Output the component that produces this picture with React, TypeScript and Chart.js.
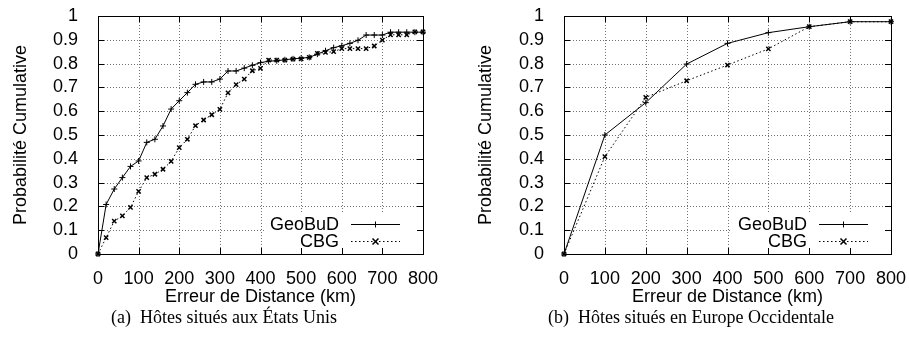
import React, { useEffect, useRef } from "react";
import { Chart, registerables } from "chart.js";

Chart.register(...registerables);

// ---------- data ----------
const US_DIST = [0, 20, 40, 60, 80, 100, 120, 140, 160, 180, 200, 220, 240, 260, 280, 300, 320, 340, 360, 380, 400, 420, 440, 460, 480, 500, 520, 540, 560, 580, 600, 620, 640, 660, 680, 700, 720, 740, 760, 780, 800];
const US_GEOBUD = [0, 0.208, 0.273, 0.321, 0.368, 0.391, 0.469, 0.482, 0.538, 0.609, 0.644, 0.678, 0.713, 0.723, 0.723, 0.735, 0.769, 0.769, 0.781, 0.793, 0.804, 0.81, 0.812, 0.816, 0.82, 0.823, 0.826, 0.84, 0.854, 0.867, 0.875, 0.885, 0.898, 0.92, 0.92, 0.92, 0.932, 0.932, 0.932, 0.932, 0.932];
const US_CBG = [0, 0.069, 0.138, 0.16, 0.196, 0.263, 0.321, 0.335, 0.356, 0.389, 0.447, 0.482, 0.539, 0.563, 0.585, 0.608, 0.677, 0.712, 0.735, 0.77, 0.78, 0.815, 0.815, 0.815, 0.819, 0.82, 0.826, 0.843, 0.847, 0.85, 0.863, 0.863, 0.863, 0.863, 0.874, 0.899, 0.921, 0.921, 0.921, 0.933, 0.933];

const EU_DIST = [0, 100, 200, 300, 400, 500, 600, 700, 800];
const EU_GEOBUD = [0, 0.5, 0.636, 0.798, 0.885, 0.93, 0.955, 0.976, 0.976];
const EU_CBG = [0, 0.409, 0.658, 0.728, 0.794, 0.862, 0.955, 0.976, 0.976];

const SERIES_NAMES = ["GeoBuD", "CBG"];
const X_TICKS = [0, 100, 200, 300, 400, 500, 600, 700, 800];
const Y_TICKS = [0, 0.1, 0.2, 0.3, 0.4, 0.5, 0.6, 0.7, 0.8, 0.9, 1];
const Y_TITLE = "Probabilité Cumulative";
const X_TITLE = "Erreur de Distance (km)";
const CAPTIONS = ["(a)  Hôtes situés aux États Unis", "(b)  Hôtes situés en Europe Occidentale"];

// ---------- styles ----------
const SANS = "'Liberation Sans', Arial, Helvetica, sans-serif";
const SERIF = "'Liberation Serif', 'Times New Roman', Times, serif";
const FONT_SIZE = 18;
const CANVAS_H = 310;
const PLOT_TOP = 16;
const PLOT_BOTTOM = 254;

function drawMarker(ctx: CanvasRenderingContext2D, style: string, x: number, y: number, r: number) {
  ctx.beginPath();
  if (style === "cross") {
    ctx.moveTo(x - r, y);
    ctx.lineTo(x + r, y);
    ctx.moveTo(x, y - r);
    ctx.lineTo(x, y + r);
  } else {
    ctx.moveTo(x - r, y - r);
    ctx.lineTo(x + r, y + r);
    ctx.moveTo(x - r, y + r);
    ctx.lineTo(x + r, y - r);
  }
  ctx.stroke();
}

const gnuplotPlugin = {
  id: "gnuplotFrame",
  beforeDatasetsDraw(chart: any) {
    const { ctx, chartArea: a, scales } = chart;
    ctx.save();
    // dotted grid
    ctx.strokeStyle = "rgba(0,0,0,0.55)";
    ctx.lineWidth = 1;
    ctx.setLineDash([1, 2]);
    X_TICKS.forEach((v) => {
      const px = Math.round(scales.x.getPixelForValue(v)) + 0.5;
      ctx.beginPath();
      ctx.moveTo(px, a.top);
      ctx.lineTo(px, a.bottom);
      ctx.stroke();
    });
    Y_TICKS.forEach((v) => {
      const py = Math.round(scales.y.getPixelForValue(v)) + 0.5;
      ctx.beginPath();
      ctx.moveTo(a.left, py);
      ctx.lineTo(a.right, py);
      ctx.stroke();
    });
    ctx.setLineDash([]);
    // white key box
    ctx.font = `${FONT_SIZE}px ${SANS}`;
    const w = Math.max(...SERIES_NAMES.map((n) => ctx.measureText(n).width));
    const textRight = a.right - 84;
    const boxLeft = textRight - w - 6;
    ctx.fillStyle = "#fff";
    ctx.fillRect(boxLeft, a.bottom - 42, a.right - boxLeft, 41);
    ctx.restore();
  },
  afterDatasetsDraw(chart: any) {
    const { ctx, chartArea: a, scales } = chart;
    ctx.save();
    // key
    ctx.font = `${FONT_SIZE}px ${SANS}`;
    ctx.textAlign = "right";
    ctx.textBaseline = "middle";
    const textRight = a.right - 84;
    const rows = [a.bottom - 30, a.bottom - 13];
    chart.data.datasets.forEach((ds: any, i: number) => {
      const y = rows[i];
      ctx.fillStyle = "#000";
      ctx.fillText(ds.label, textRight, y + 1);
      const x0 = a.right - 72;
      const x1 = a.right - 23;
      ctx.strokeStyle = "#000";
      ctx.lineWidth = 1;
      ctx.setLineDash(ds.borderDash || []);
      ctx.beginPath();
      ctx.moveTo(x0, Math.round(y) + 0.5);
      ctx.lineTo(x1, Math.round(y) + 0.5);
      ctx.stroke();
      ctx.setLineDash([]);
      ctx.lineWidth = ds.pointBorderWidth || 1;
      drawMarker(ctx, ds.pointStyle, (x0 + x1) / 2, Math.round(y) + 0.5, ds.pointRadius);
    });
    // tick marks
    ctx.strokeStyle = "#000";
    ctx.lineWidth = 1;
    const tl = 6;
    X_TICKS.forEach((v) => {
      const px = Math.round(scales.x.getPixelForValue(v)) + 0.5;
      ctx.beginPath();
      ctx.moveTo(px, a.bottom);
      ctx.lineTo(px, a.bottom - tl);
      ctx.moveTo(px, a.top);
      ctx.lineTo(px, a.top + tl);
      ctx.stroke();
    });
    Y_TICKS.forEach((v) => {
      const py = Math.round(scales.y.getPixelForValue(v)) + 0.5;
      ctx.beginPath();
      ctx.moveTo(a.left, py);
      ctx.lineTo(a.left + tl, py);
      ctx.moveTo(a.right, py);
      ctx.lineTo(a.right - tl, py);
      ctx.stroke();
    });
    // frame
    ctx.strokeRect(Math.round(a.left) + 0.5, Math.round(a.top) + 0.5, Math.round(a.right - a.left), Math.round(a.bottom - a.top));
    ctx.restore();
  },
};

type PanelProps = {
  left: number;
  width: number;
  plotLeft: number; // within canvas
  plotRight: number; // within canvas
  dist: number[];
  geobud: number[];
  cbg: number[];
};

function Panel({ left, width, plotLeft, plotRight, dist, geobud, cbg }: PanelProps) {
  const ref = useRef<HTMLCanvasElement | null>(null);
  useEffect(() => {
    if (!ref.current) return;
    const font = { family: SANS, size: FONT_SIZE };
    const chart = new Chart(ref.current, {
      type: "line",
      data: {
        datasets: [
          {
            label: SERIES_NAMES[0],
            data: dist.map((d, i) => ({ x: d, y: geobud[i] })),
            borderColor: "#000",
            borderWidth: 1,
            pointStyle: "cross",
            pointRadius: 3,
            pointBorderWidth: 1,
            pointBorderColor: "#000",
            pointBackgroundColor: "#000",
            tension: 0,
            clip: false as any,
          } as any,
          {
            label: SERIES_NAMES[1],
            data: dist.map((d, i) => ({ x: d, y: cbg[i] })),
            borderColor: "#000",
            borderWidth: 1,
            borderDash: [1.5, 2.5],
            pointStyle: "crossRot",
            pointRadius: 3,
            pointBorderWidth: 1.5,
            pointBorderColor: "#000",
            pointBackgroundColor: "#000",
            tension: 0,
            clip: false as any,
          } as any,
        ],
      },
      options: {
        responsive: false,
        animation: false,
        layout: { padding: { left: 0, top: PLOT_TOP, right: width - plotRight, bottom: 0 } },
        plugins: {
          legend: { display: false },
          tooltip: { enabled: false },
          title: { display: false },
        },
        scales: {
          x: {
            type: "linear",
            min: 0,
            max: 800,
            afterFit: (s: any) => {
              s.height = CANVAS_H - PLOT_BOTTOM;
              s.paddingLeft = 0;
              s.paddingRight = 0;
            },
            afterBuildTicks: (s: any) => {
              s.ticks = X_TICKS.map((v) => ({ value: v }));
            },
            ticks: { padding: 6, color: "#000", font, maxRotation: 0, autoSkip: false },
            grid: { display: false },
            border: { display: false },
            title: { display: true, text: X_TITLE, color: "#000", font, padding: { top: 0, bottom: 2 } },
          },
          y: {
            type: "linear",
            min: 0,
            max: 1,
            afterFit: (s: any) => {
              s.width = plotLeft;
              s.paddingTop = 0;
              s.paddingBottom = 0;
            },
            afterBuildTicks: (s: any) => {
              s.ticks = Y_TICKS.map((v) => ({ value: v }));
            },
            ticks: {
              padding: 12,
              color: "#000",
              font,
              autoSkip: false,
              callback: (v: any) => String(Number(Number(v).toFixed(1))),
            },
            grid: { display: false },
            border: { display: false },
            title: { display: true, text: Y_TITLE, color: "#000", font, padding: { top: 10, bottom: 0 } },
          },
        },
      } as any,
      plugins: [gnuplotPlugin],
    });
    return () => chart.destroy();
  }, []);
  return (
    <canvas
      ref={ref}
      width={width}
      height={CANVAS_H}
      style={{ position: "absolute", left, top: 0, width, height: CANVAS_H, display: "block" }}
    />
  );
}

export default function App() {
  return (
    <div style={{ position: "absolute", left: 0, top: 0, width: 909, height: 338, background: "#fff", overflow: "hidden" }}>
      <Panel left={0} width={450} plotLeft={98} plotRight={423} dist={US_DIST} geobud={US_GEOBUD} cbg={US_CBG} />
      <Panel left={465} width={444} plotLeft={99} plotRight={426} dist={EU_DIST} geobud={EU_GEOBUD} cbg={EU_CBG} />
      <div
        style={{
          position: "absolute",
          left: 0,
          top: 307,
          width: 448,
          textAlign: "center",
          fontFamily: SERIF,
          fontSize: FONT_SIZE,
          lineHeight: "20px",
          whiteSpace: "pre",
          color: "#000",
        }}
      >
        {CAPTIONS[0]}
      </div>
      <div
        style={{
          position: "absolute",
          left: 467,
          top: 307,
          width: 448,
          textAlign: "center",
          fontFamily: SERIF,
          fontSize: FONT_SIZE,
          lineHeight: "20px",
          whiteSpace: "pre",
          color: "#000",
        }}
      >
        {CAPTIONS[1]}
      </div>
    </div>
  );
}
